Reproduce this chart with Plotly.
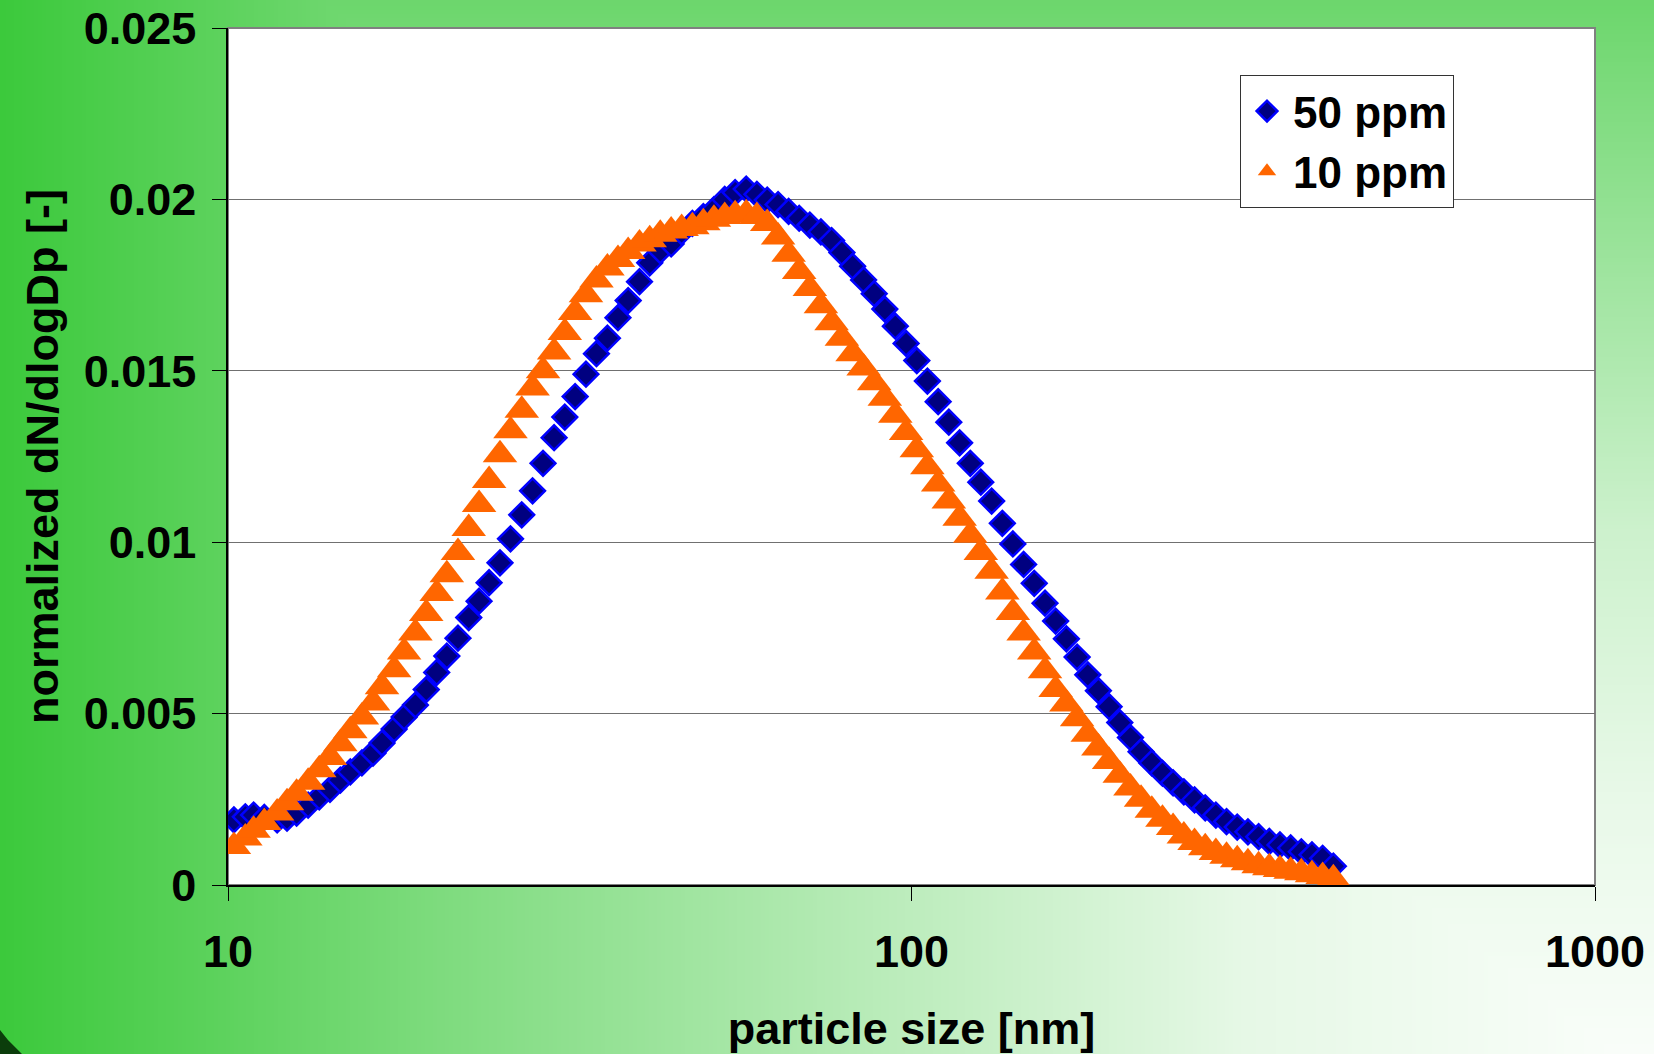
import base64
import struct
import zlib

import numpy as np
import plotly.graph_objects as go

# Particle size channels (nm), 64 channels per decade
diam_nm = [
    10.2, 10.6, 10.9, 11.3, 11.8, 12.2, 12.6, 13.1, 13.6, 14.1,
    14.6, 15.1, 15.7, 16.3, 16.8, 17.5, 18.1, 18.8, 19.5, 20.2,
    20.9, 21.7, 22.5, 23.3, 24.1, 25.0, 25.9, 26.9, 27.9, 28.9,
    30.0, 31.1, 32.2, 33.4, 34.6, 35.9, 37.2, 38.5, 40.0, 41.4,
    42.9, 44.5, 46.1, 47.8, 49.6, 51.4, 53.3, 55.2, 57.3, 59.4,
    61.5, 63.8, 66.1, 68.5, 71.0, 73.7, 76.4, 79.1, 82.0, 85.1,
    88.2, 91.4, 94.7, 98.2, 101.8, 105.5, 109.4, 113.4, 117.6, 121.9,
    126.3, 131.0, 135.8, 140.7, 145.9, 151.2, 156.8, 162.5, 168.5, 174.7,
    181.1, 187.7, 194.6, 201.7, 209.1, 216.7, 224.7, 232.9, 241.4, 250.3,
    259.5, 269.0, 278.8, 289.0, 299.6, 310.6, 322.0, 333.8, 346.0, 358.7,
    371.8, 385.4, 399.5, 414.2,
]

# normalized dN/dlogDp, 50 ppm
dn_50ppm = [
    0.00190, 0.00199, 0.00204, 0.00197, 0.00190, 0.00195, 0.00210, 0.00233, 0.00257, 0.00279,
    0.00306, 0.00330, 0.00356, 0.00385, 0.00414, 0.00455, 0.00490, 0.00525, 0.00570, 0.00620,
    0.00668, 0.00720, 0.00780, 0.00828, 0.00882, 0.00940, 0.01010, 0.01080, 0.01150, 0.01230,
    0.01305, 0.01365, 0.01425, 0.01490, 0.01550, 0.01595, 0.01655, 0.01705, 0.01760, 0.01815,
    0.01850, 0.01870, 0.01905, 0.01930, 0.01950, 0.01970, 0.02000, 0.02020, 0.02030, 0.02015,
    0.01998, 0.01985, 0.01965, 0.01945, 0.01925, 0.01905, 0.01880, 0.01845, 0.01805, 0.01765,
    0.01725, 0.01680, 0.01630, 0.01580, 0.01530, 0.01470, 0.01410, 0.01350, 0.01290, 0.01230,
    0.01175, 0.01120, 0.01055, 0.00995, 0.00935, 0.00880, 0.00822, 0.00770, 0.00718, 0.00665,
    0.00613, 0.00567, 0.00520, 0.00474, 0.00430, 0.00389, 0.00356, 0.00326, 0.00298, 0.00272,
    0.00248, 0.00225, 0.00204, 0.00185, 0.00169, 0.00155, 0.00141, 0.00127, 0.00117, 0.00108,
    0.00097, 0.00088, 0.00078, 0.00055,
]

# normalized dN/dlogDp, 10 ppm
dn_10ppm = [
    0.00112, 0.00137, 0.00160, 0.00182, 0.00210, 0.00240, 0.00268, 0.00300, 0.00336, 0.00372,
    0.00412, 0.00450, 0.00490, 0.00531, 0.00578, 0.00628, 0.00680, 0.00735, 0.00792, 0.00850,
    0.00905, 0.00970, 0.01040, 0.01110, 0.01180, 0.01255, 0.01325, 0.01385, 0.01450, 0.01500,
    0.01555, 0.01612, 0.01670, 0.01722, 0.01765, 0.01800, 0.01825, 0.01848, 0.01870, 0.01882,
    0.01898, 0.01908, 0.01915, 0.01920, 0.01932, 0.01942, 0.01950, 0.01955, 0.01958, 0.01950,
    0.01930, 0.01890, 0.01840, 0.01790, 0.01740, 0.01690, 0.01640, 0.01595, 0.01550, 0.01508,
    0.01465, 0.01420, 0.01370, 0.01320, 0.01270, 0.01220, 0.01170, 0.01120, 0.01070, 0.01020,
    0.00970, 0.00915, 0.00855, 0.00795, 0.00735, 0.00680, 0.00625, 0.00570, 0.00528, 0.00485,
    0.00440, 0.00400, 0.00360, 0.00320, 0.00283, 0.00250, 0.00218, 0.00192, 0.00168, 0.00143,
    0.00124, 0.00109, 0.00095, 0.00084, 0.00074, 0.00065, 0.00056, 0.00050, 0.00045, 0.00040,
    0.00036, 0.00030, 0.00025, 0.00018,
]

series_names = ["50 ppm", "10 ppm"]
x_tickvals = [10, 100, 1000]
x_ticktext = ["10", "100", "1000"]

# ---- page geometry (px) ----
W, H = 1654, 1054
ML, MR, MT, MB = 228, 59, 28, 169
PW, PH = W - ML - MR, H - MT - MB


def png_data_uri(rgb):
    """Encode an HxWx3 uint8 array as a base64 PNG data URI."""
    h, w, _ = rgb.shape
    raw = b"".join(b"\x00" + rgb[r].tobytes() for r in range(h))

    def chunk(tag, data):
        body = tag + data
        return struct.pack(">I", len(data)) + body + struct.pack(">I", zlib.crc32(body) & 0xFFFFFFFF)

    png = (b"\x89PNG\r\n\x1a\n"
           + chunk(b"IHDR", struct.pack(">IIBBBBB", w, h, 8, 2, 0, 0, 0))
           + chunk(b"IDAT", zlib.compress(raw, 9))
           + chunk(b"IEND", b""))
    return "data:image/png;base64," + base64.b64encode(png).decode()


# green-to-white slide background: rectangular gradient toward the lower-right corner
gw, gh = 414, 264
xn = np.linspace(0, 1, gw)
yn = np.linspace(0, 1, gh)
fx = np.interp(xn, [0, 0.25, 0.5, 0.75, 1.0], [0.0, 0.32, 0.61, 0.87, 0.98])
gy = np.interp(yn, [0, 0.25, 0.5, 0.75, 1.0], [0.25, 0.50, 0.74, 0.88, 0.97])
t = np.minimum(fx[None, :], gy[:, None])
base = np.array([60, 201, 60], dtype=float)
white = np.array([255, 255, 255], dtype=float)
bg = (base[None, None, :] + t[:, :, None] * (white - base)[None, None, :]).round().astype(np.uint8)
bg_uri = png_data_uri(bg)


def px_to_paper(px, py):
    return (px - ML) / PW, (H - MB - py) / PH


# dark slide ornament in the lower-left corner
corner_pts = [px_to_paper(0, 1030), px_to_paper(8, 1040), px_to_paper(22, 1054), px_to_paper(0, 1054)]
corner_path = "M " + " L ".join(f"{a:.5f},{b:.5f}" for a, b in corner_pts) + " Z"

FONT = "Liberation Sans, Arial, sans-serif"
TICK_FONT = dict(family=FONT, size=45, color="black", weight="bold")
TITLE_FONT = dict(family=FONT, size=45, color="black", weight="bold")

fig = go.Figure()

fig.add_trace(go.Scatter(
    x=diam_nm, y=dn_50ppm, mode="markers", name=series_names[0],
    marker=dict(symbol="diamond", size=19, color="#000080",
                line=dict(color="#0000FF", width=2.5)),
))
fig.add_trace(go.Scatter(
    x=diam_nm, y=dn_10ppm, mode="markers", name=series_names[1],
    marker=dict(symbol="triangle-up", size=30, color="#FF6600",
                line=dict(width=0)),
))

fig.update_layout(
    width=W, height=H,
    margin=dict(l=ML, r=MR, t=MT, b=MB, autoexpand=False),
    paper_bgcolor="rgb(60,201,60)",
    plot_bgcolor="white",
    font=dict(family=FONT, size=44, color="black", weight="bold"),
    showlegend=True,
    legend=dict(
        x=(1240 - ML) / PW, y=(H - MB - 75) / PH, xanchor="left", yanchor="top",
        bgcolor="white", bordercolor="#333333", borderwidth=1,
        font=dict(family=FONT, size=44, color="black", weight="bold"),
        itemwidth=42,
    ),
    images=[dict(
        source=bg_uri, xref="paper", yref="paper",
        x=-ML / PW, y=1 + MT / PH, sizex=W / PW, sizey=H / PH,
        xanchor="left", yanchor="top", sizing="stretch", layer="below",
    )],
    shapes=[
        # white plot area with grey frame
        dict(type="rect", xref="x domain", yref="y domain", x0=0, x1=1, y0=0, y1=1,
             fillcolor="white", line=dict(color="#808080", width=2), layer="below"),
        dict(type="path", xref="paper", yref="paper", path=corner_path,
             fillcolor="#0b3d0b", line=dict(width=0), layer="below"),
    ],
)

fig.update_xaxes(
    type="log", range=[1, 3],
    tickvals=x_tickvals, ticktext=x_ticktext,
    showgrid=False, zeroline=False,
    showline=True, linecolor="black", linewidth=1.5,
    ticks="outside", ticklen=14, tickwidth=1, tickcolor="black",
    ticklabelstandoff=12,
    tickfont=TICK_FONT,
    title=dict(text="particle size [nm]", standoff=40, font=TITLE_FONT),
)
fig.update_yaxes(
    range=[0, 0.025], dtick=0.005, tick0=0,
    showgrid=True, gridcolor="#707070", gridwidth=1.3,
    zeroline=False,
    showline=True, linecolor="black", linewidth=1.5,
    ticks="outside", ticklen=14, tickwidth=1, tickcolor="black",
    ticklabelstandoff=7,
    tickfont=TICK_FONT,
    title=dict(text="normalized dN/dlogDp [-]", standoff=11, font=TITLE_FONT),
)

fig.write_html("out.html")
